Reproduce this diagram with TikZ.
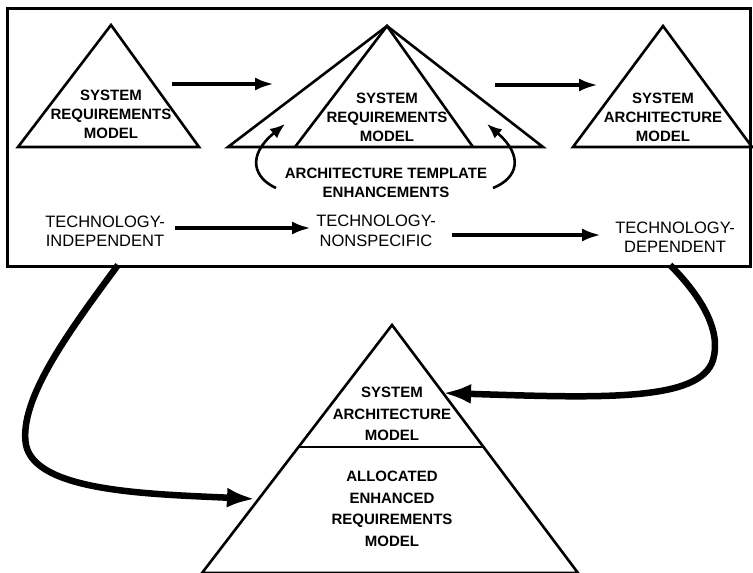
\documentclass[tikz,border=0pt]{standalone}
\usepackage{fontspec}
\setmainfont{Liberation Sans}
\usetikzlibrary{arrows.meta,calc}
\begin{document}
\begin{tikzpicture}[x=1pt,y=-1pt,
  tri/.style={line width=2.6pt,line join=miter},
  lbl/.style={font=\fontsize{15}{19}\selectfont\bfseries,align=center,inner sep=0pt},
  lblwide/.style={lbl,font=\fontsize{15}{21.5}\selectfont\bfseries},
  tech/.style={font=\fontsize{16.5}{19.5}\selectfont,align=center,inner sep=0pt},
  flow/.style={line width=4pt,-{Latex[length=19pt,width=13pt]}},
  loopback/.style={line width=2.6pt,-{Latex[length=15pt,width=12pt]}},
  feed/.style={line width=6.5pt,-{Latex[length=28pt,width=20pt]}}]
\useasboundingbox (0,0) rectangle (753,573);

% outer frame
\draw[line width=3pt] (7,8) rectangle (750,266);

% technology-independent requirements model
\coordinate (t1a) at (111,25);
\coordinate (t1l) at (18,147);
\coordinate (t1r) at (199,147);
\draw[tri] (t1a) -- (t1l) -- (t1r) -- cycle;
\node[lbl] (srm1) at (111,114) {SYSTEM\\REQUIREMENTS\\MODEL};

% requirements model wrapped by the architecture template
\coordinate (t2a) at (387,26);
\coordinate (t2l) at (228,147);
\coordinate (t2r) at (543,147);
\coordinate (t2il) at (295,147);
\coordinate (t2ir) at (473,147);
\draw[tri] (t2a) -- (t2l) -- (t2r) -- cycle;
\draw[tri] (t2il) -- (t2a) -- (t2ir);
\node[lbl] (srm2) at (387,117) {SYSTEM\\REQUIREMENTS\\MODEL};
\node[lbl] (ate) at (386,183) {ARCHITECTURE TEMPLATE\\ENHANCEMENTS};

% technology-dependent architecture model
\coordinate (t3a) at (663,26);
\coordinate (t3l) at (573,147);
\coordinate (t3r) at (752,147);
\draw[tri] (t3a) -- (t3l) -- (t3r) -- cycle;
\node[lbl] (sam1) at (663,117) {SYSTEM\\ARCHITECTURE\\MODEL};

% progression arrows along the top
\coordinate (a1s) at (172,84);
\coordinate (a1e) at (274,84);
\coordinate (a2s) at (495,85);
\coordinate (a2e) at (598,85);
\draw[flow] (a1s) -- (a1e);
\draw[flow] (a2s) -- (a2e);

% template enhancements feeding into the wrapper
\coordinate (la) at (285,124);
\coordinate (ra) at (487,124);
\coordinate (lt) at (276,188);
\coordinate (rt) at (493,188);
\draw[loopback] (lt) .. controls (254,178) and (246,156) .. (la);
\draw[loopback] (rt) .. controls (518,178) and (524,156) .. (ra);

% technology labels
\node[tech] (ti) at (105,231) {TECHNOLOGY-\\INDEPENDENT};
\node[tech] (tn) at (376,231) {TECHNOLOGY-\\NONSPECIFIC};
\node[tech] (td) at (675,237) {TECHNOLOGY-\\DEPENDENT};
\coordinate (b1s) at (175,228);
\coordinate (b1e) at (311,228);
\coordinate (b2s) at (452,235);
\coordinate (b2e) at (601,235);
\draw[flow] (b1s) -- (b1e);
\draw[flow] (b2s) -- (b2e);

% allocated enhanced requirements model
\coordinate (t4a) at (392,325);
\coordinate (t4l) at (202,573);
\coordinate (t4r) at (578,573);
\draw[tri] (t4a) -- (t4l) -- (t4r) -- cycle;
\coordinate (dl) at ($(t4a)!0.492!(t4l)$);
\coordinate (dr) at ($(t4a)!0.492!(t4r)$);
\draw[tri] (dl) -- (dr);
\node[lblwide] (sam2) at (392,414) {SYSTEM\\ARCHITECTURE\\MODEL};
\node[lblwide] (aerm) at (392,509) {ALLOCATED\\ENHANCED\\REQUIREMENTS\\MODEL};

% both ends of the progression feed the allocated model
\coordinate (fl) at (118,265);
\coordinate (fr) at (670,265);
\draw[feed] (fl) .. controls (70,330) and (18,400) .. (26,445)
  .. controls (36,492) and (150,494) .. (255,499);
\draw[feed] (fr) .. controls (700,295) and (722,330) .. (713,360)
  .. controls (700,402) and (600,398) .. (443,393);
\end{tikzpicture}
\end{document}
